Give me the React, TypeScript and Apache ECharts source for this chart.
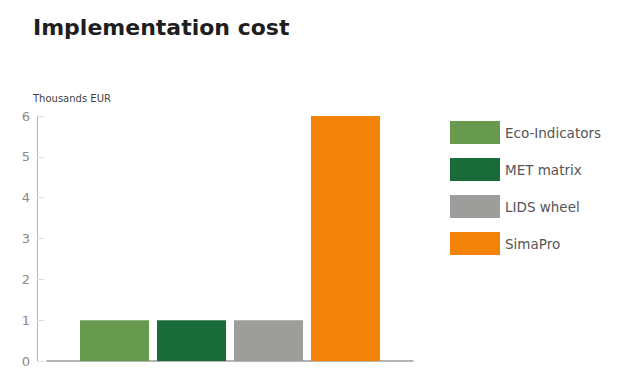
import React, { useEffect, useRef } from "react";
import * as echarts from "echarts";

const categories = ["Implementation cost"];
const seriesNames = ["Eco-Indicators", "MET matrix", "LIDS wheel", "SimaPro"];
const seriesValues = [1, 1, 1, 6];
const seriesColors = ["#679a4f", "#1a6b3a", "#9d9d9b", "#f38208"];
const yTicks = [0, 1, 2, 3, 4, 5, 6];

export default function App() {
  const ref = useRef<HTMLDivElement>(null);
  useEffect(() => {
    if (!ref.current) return;
    const chart = echarts.init(ref.current, undefined, { renderer: "svg" });
    const font = "DejaVu Sans";
    chart.setOption({
      animation: false,
      backgroundColor: "#ffffff",
      title: {
        text: "Implementation cost",
        left: 28,
        top: 11,
        textStyle: { fontFamily: "DejaVu Sans", fontWeight: "bold", fontSize: 22, color: "#1e1e1e" },
      },
      legend: {
        orient: "vertical",
        left: 445,
        top: 116,
        itemWidth: 50,
        itemHeight: 23,
        itemGap: 14,
        icon: "rect",
        data: seriesNames,
        textStyle: { fontFamily: font, fontSize: 13.5, color: "#555555" },
      },
      grid: { left: 47, right: 216, top: 116, bottom: 9 },
      xAxis: {
        type: "category",
        data: categories,
        axisLine: { lineStyle: { color: "#9a9a9a", width: 1.5 } },
        axisTick: { show: false },
        axisLabel: { show: false },
      },
      yAxis: {
        type: "value",
        min: yTicks[0],
        max: yTicks[yTicks.length - 1],
        interval: 1,
        offset: 10,
        name: "Thousands EUR",
        nameLocation: "end",
        nameGap: 13,
        nameTextStyle: { fontFamily: font, fontSize: 10, color: "#444444", align: "left", padding: [0, 0, 0, -4] },
        axisLine: { show: true, lineStyle: { color: "#b5b5b5", width: 1 } },
        axisTick: { show: true, inside: true, length: 7, lineStyle: { color: "#dddddd" } },
        splitLine: { show: false },
        axisLabel: { fontFamily: font, fontSize: 13, color: "#8a8a8a", margin: 7 },
      },
      series: seriesNames.map((name, i) => ({
        name,
        type: "bar",
        data: [seriesValues[i]],
        barWidth: 69,
        barGap: "11.6%",
        itemStyle: { color: seriesColors[i] },
      })),
    });
    return () => chart.dispose();
  }, []);
  return (
    <div
      ref={ref}
      style={{ position: "fixed", left: 0, top: 0, width: 629, height: 370 }}
    />
  );
}
